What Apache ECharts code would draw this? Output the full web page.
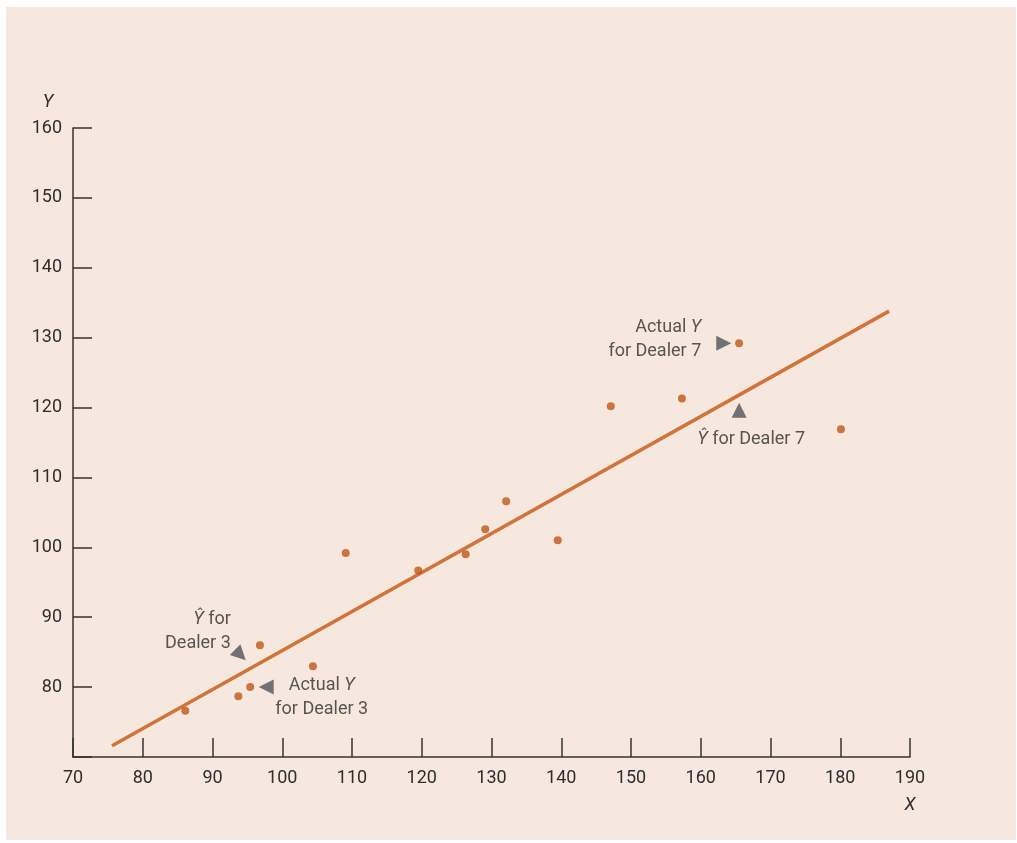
<!DOCTYPE html>
<html><head><meta charset="utf-8">
<script src="https://cdn.jsdelivr.net/npm/echarts@6/dist/echarts.min.js"></script>
<style>
html,body{margin:0;padding:0;background:#fff;width:1017px;height:843px;overflow:hidden}
#bg{position:absolute;left:6px;top:7px;width:1010px;height:833px;background:#f6e8df}
#c{position:absolute;left:0;top:0;width:1017px;height:843px}
</style></head><body>
<div id="bg"></div><div id="c"></div>
<script>
// Data
const pointX = [86.1, 93.7, 95.4, 96.8, 104.4, 109.1, 119.5, 126.3, 129.1, 132.1, 139.5, 147.1, 157.3, 165.5, 180.1];
const pointY = [76.6, 78.7, 80.0, 86.0, 83.0, 99.2, 96.7, 99.0, 102.6, 106.6, 101.0, 120.2, 121.3, 129.2, 116.9];
const lineX = [75.6, 187.0];
const lineY = [71.6, 133.8];
const xTicks = [70, 80, 90, 100, 110, 120, 130, 140, 150, 160, 170, 180, 190];
const yTicks = [80, 90, 100, 110, 120, 130, 140, 150, 160];
const annX = [163.3, 165.5, 94.0, 97.7];
const annY = [129.2, 119.6, 84.6, 80.0];
const annText = ['Actual {i|Y}\nfor Dealer 7', '{i|Ŷ} for Dealer 7', '{i|Ŷ} for\nDealer 3', 'Actual {i|Y}\nfor Dealer 3'];

const FONT = '"Roboto", "Liberation Sans", sans-serif';
const TXT = '#2e2e2e';
const annStyle = [
  {rotate: -90, label: {position: 'left', align: 'right', offset: [-10, -4]}},
  {rotate: 0, label: {position: 'bottom', align: 'center', offset: [12, 5]}},
  {rotate: -135, label: {position: 'left', align: 'right', offset: [6, -23]}},
  {rotate: 90, label: {position: 'right', align: 'center', offset: [43, 10]}}
];

const chart = echarts.init(document.getElementById('c'), null, {renderer: 'canvas'});
chart.setOption({
  backgroundColor: 'transparent',
  animation: false,
  grid: {left: 73, right: 107, top: 128, bottom: 86, containLabel: false},
  xAxis: {
    type: 'value', min: 70, max: 190, interval: 10,
    name: 'X', nameLocation: 'end', nameGap: 0,
    nameTextStyle: {fontStyle: 'italic', fontFamily: FONT, fontSize: 18, color: TXT, align: 'center', verticalAlign: 'top', padding: [39, 0, 0, 0]},
    axisLine: {show: true, lineStyle: {color: '#333', width: 1.5}},
    axisTick: {show: true, inside: true, length: 19, lineStyle: {color: '#333', width: 1.5}},
    axisLabel: {fontFamily: FONT, fontSize: 18, color: TXT, margin: 12, showMinLabel: true, showMaxLabel: true,
      formatter: v => xTicks.includes(v) ? String(v) : ''},
    splitLine: {show: false}
  },
  yAxis: {
    type: 'value', min: 70, max: 160, interval: 10,
    name: 'Y', nameLocation: 'end', nameGap: 17,
    nameTextStyle: {fontStyle: 'italic', fontFamily: FONT, fontSize: 18, color: TXT, align: 'center', padding: [0, 50, 0, 0]},
    axisLine: {show: true, lineStyle: {color: '#333', width: 1.5}},
    axisTick: {show: true, inside: true, length: 19, lineStyle: {color: '#333', width: 1.5}},
    axisLabel: {fontFamily: FONT, fontSize: 18, color: TXT, margin: 11,
      formatter: v => yTicks.includes(v) ? String(v) : ''},
    splitLine: {show: false}
  },
  series: [
    {
      type: 'line', data: lineX.map((x, i) => [x, lineY[i]]), showSymbol: false,
      lineStyle: {color: '#d0743a', width: 3.5}, z: 2
    },
    {
      type: 'scatter', data: pointX.map((x, i) => [x, pointY[i]]),
      symbol: 'circle', symbolSize: 8, itemStyle: {color: '#bf5618'}, z: 3
    },
    {
      type: 'scatter', z: 4,
      data: annX.map((x, i) => ({
        value: [x, annY[i]],
        symbolRotate: annStyle[i].rotate,
        label: Object.assign({show: true, formatter: annText[i], fontFamily: FONT, fontSize: 18, color: TXT, lineHeight: 24,
          rich: {i: {fontStyle: 'italic', fontFamily: FONT, fontSize: 18, color: TXT}}}, annStyle[i].label)
      })),
      symbol: 'triangle', symbolSize: 15, itemStyle: {color: '#505357'}
    }
  ]
});
</script>
</body></html>
